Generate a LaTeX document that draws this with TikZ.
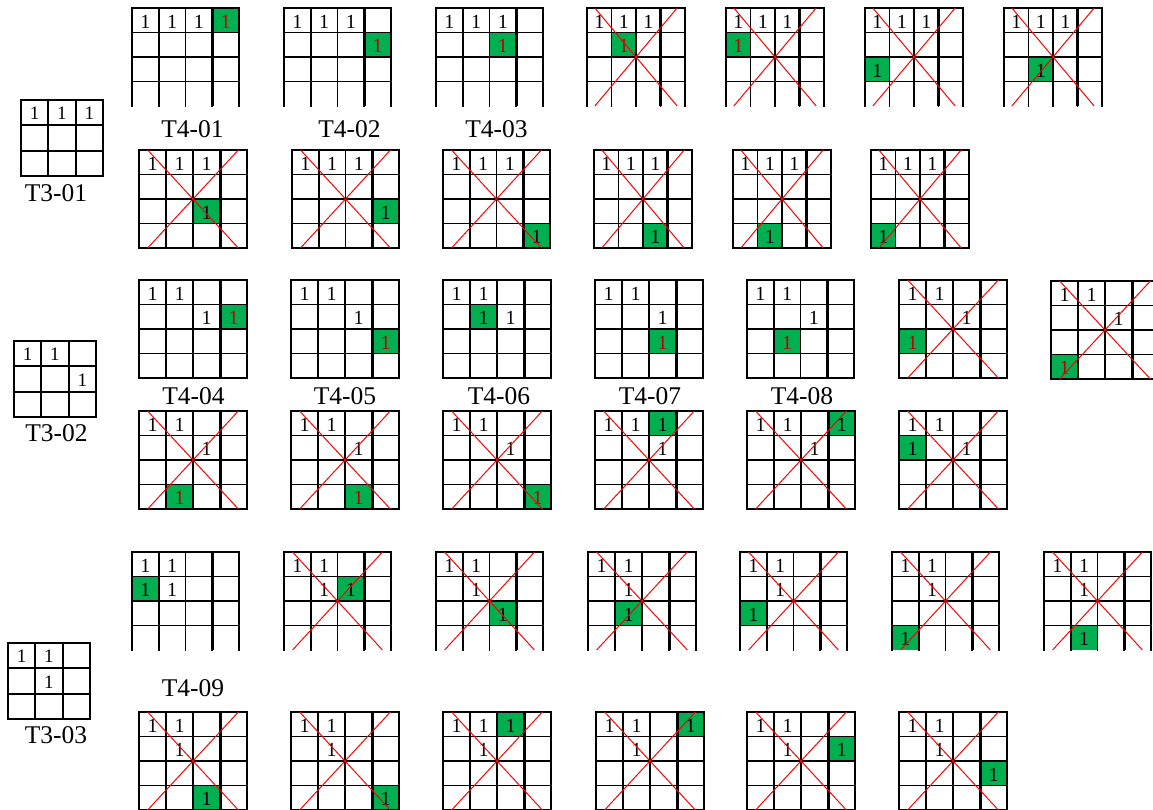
\documentclass[tikz,border=0pt]{standalone}
\usepackage{fontspec}
\setmainfont{Liberation Serif}
\usetikzlibrary{calc}
\definecolor{hitgreen}{RGB}{0,176,80}
\definecolor{hitred}{RGB}{192,0,0}
\tikzset{
  gridline/.style={line width=1.9pt, black, line cap=rect},
  heavyline/.style={line width=3pt, black},
  hitcell/.style={fill=hitgreen},
  num/.style={font=\fontsize{20}{20}\selectfont, inner sep=0pt, yshift=-1.5pt},
  tnum/.style={font=\fontsize{19}{19}\selectfont, inner sep=0pt, yshift=-1pt},
  tag/.style={font=\fontsize{25.5}{25.5}\selectfont, inner sep=0pt},
  strike/.style={red, line width=1pt}
}
% bottom rule of a 4x4 board (3 = open bottom)
\def\lastrule{4}
% 4x4 board: name, top-left corner, width, cells holding 1, green cell row/col/colour
\newcommand{\board}[5]{%
  \pgfmathsetmacro\cellw{#3/4}
  \begin{scope}[shift={(#2)}, x=\cellw pt, y=-24.5pt]
    \coordinate (#1-nw) at (0,0);
    \coordinate (#1-ne) at (4,0);
    \coordinate (#1-sw) at (0,4);
    \coordinate (#1-se) at (4,4);
    \foreach \rr/\cc/\tc in {#5} {
      \fill[hitcell] (\cc-1,\rr-1) rectangle (\cc,\rr);
      \node[num, text=\tc] (#1-hit) at (\cc-0.5,\rr-0.5) {1};
    }
    \foreach \i in {0,...,4} \draw[gridline] (\i,0) -- (\i,4);
    \foreach \i in {0,...,\lastrule} \draw[gridline] (0,\i) -- (4,\i);
    \draw[heavyline] (3,0) -- (3,4);
    \foreach \rr/\cc in {#4} \node[num] (#1-\rr-\cc) at (\cc-0.5,\rr-0.5) {1};
  \end{scope}}
% 3x3 base board: name, top-left corner, cells holding 1
\newcommand{\tboard}[3]{%
  \begin{scope}[shift={(#2)}, x=27.3pt, y=-25.3pt]
    \foreach \i in {0,...,3} {
      \draw[gridline] (\i,0) -- (\i,3);
      \draw[gridline] (0,\i) -- (3,\i);
    }
    \foreach \rr/\cc in {#3} \node[tnum] (#1-\rr-\cc) at (\cc-0.5,\rr-0.5) {1};
  \end{scope}}
% red cross over a board
\newcommand{\strikeout}[1]{%
  \draw[strike] ($(#1-nw)!0.08!(#1-ne)$) -- ($(#1-sw)!0.92!(#1-se)$);
  \draw[strike] ($(#1-nw)!0.92!(#1-ne)$) -- ($(#1-sw)!0.08!(#1-se)$);}

\begin{document}
\begin{tikzpicture}[x=1pt, y=-1pt]
  \useasboundingbox (0,0) rectangle (1153,809);
  \clip (0,0) rectangle (1153,809);

  % T3-01
  \tboard{t301}{21,100}{1/1,1/2,1/3}
  \node[tag] (t3-01) at (56,193) {T3-01};
  \def\lastrule{3}
  \board{g1a}{132,8}{107}{1/1,1/2,1/3}{1/4/hitred}
  \board{g1b}{284,8}{107}{1/1,1/2,1/3}{2/4/hitred}
  \board{g1c}{436,8}{107}{1/1,1/2,1/3}{2/3/hitred}
  \board{g1d}{587,8}{98}{1/1,1/2,1/3}{2/2/hitred}
  \board{g1e}{726,8}{98}{1/1,1/2,1/3}{2/1/hitred}
  \board{g1f}{865,8}{98}{1/1,1/2,1/3}{3/1/black}
  \board{g1g}{1004,8}{98}{1/1,1/2,1/3}{3/2/black}
  \def\lastrule{4}
  \board{g1h}{139,150}{108}{1/1,1/2,1/3}{3/3/black}
  \board{g1i}{292,150}{107}{1/1,1/2,1/3}{3/4/black}
  \board{g1j}{443,150}{107}{1/1,1/2,1/3}{4/4/black}
  \board{g1k}{594,150}{98}{1/1,1/2,1/3}{4/3/black}
  \board{g1l}{733,150}{98}{1/1,1/2,1/3}{4/2/black}
  \board{g1m}{871,150}{98}{1/1,1/2,1/3}{4/1/black}
  \node[tag] (t4-01) at (192.5,129) {T4-01};
  \node[tag] (t4-02) at (349.5,129) {T4-02};
  \node[tag] (t4-03) at (496.5,129) {T4-03};

  % T3-02
  \tboard{t302}{14,341}{1/1,1/2,2/3}
  \node[tag] (t3-02) at (56.5,433) {T3-02};
  \board{g2a}{139,280}{108}{1/1,1/2,2/3}{2/4/hitred}
  \board{g2b}{291,280}{108}{1/1,1/2,2/3}{3/4/hitred}
  \board{g2c}{443,280}{108}{1/1,1/2,2/3}{2/2/black}
  \board{g2d}{595,280}{108}{1/1,1/2,2/3}{3/3/hitred}
  \board{g2e}{747,280}{107}{1/1,1/2,2/3}{3/2/hitred}
  \board{g2f}{899,280}{108}{1/1,1/2,2/3}{3/1/hitred}
  \board{g2g}{1051,281}{108}{1/1,1/2,2/3}{4/1/hitred}
  \board{g2h}{139,411}{108}{1/1,1/2,2/3}{4/2/hitred}
  \board{g2i}{291,411}{108}{1/1,1/2,2/3}{4/3/hitred}
  \board{g2j}{443,411}{108}{1/1,1/2,2/3}{4/4/hitred}
  \board{g2k}{595,411}{108}{1/1,1/2,2/3}{1/3/black}
  \board{g2l}{747,411}{108}{1/1,1/2,2/3}{1/4/black}
  \board{g2m}{899,411}{108}{1/1,1/2,2/3}{2/1/black}
  \node[tag] (t4-04) at (193.5,396) {T4-04};
  \node[tag] (t4-05) at (345,396) {T4-05};
  \node[tag] (t4-06) at (499,396) {T4-06};
  \node[tag] (t4-07) at (650,396) {T4-07};
  \node[tag] (t4-08) at (802,396) {T4-08};

  % T3-03
  \tboard{t303}{8,643}{1/1,1/2,2/2}
  \node[tag] (t3-03) at (56,735) {T3-03};
  \def\lastrule{3}
  \board{g3a}{132,552}{107}{1/1,1/2,2/2}{2/1/black}
  \board{g3b}{284,552}{107}{1/1,1/2,2/2}{2/3/black}
  \board{g3c}{436,552}{107}{1/1,1/2,2/2}{3/3/black}
  \board{g3d}{588,552}{108}{1/1,1/2,2/2}{3/2/black}
  \board{g3e}{740,552}{107}{1/1,1/2,2/2}{3/1/black}
  \board{g3f}{892,552}{107}{1/1,1/2,2/2}{4/1/black}
  \board{g3g}{1044,552}{107}{1/1,1/2,2/2}{4/2/black}
  \def\lastrule{4}
  \board{g3h}{139,712}{108}{1/1,1/2,2/2}{4/3/black}
  \board{g3i}{291,712}{108}{1/1,1/2,2/2}{4/4/black}
  \board{g3j}{443,712}{108}{1/1,1/2,2/2}{1/3/black}
  \board{g3k}{596,712}{108}{1/1,1/2,2/2}{1/4/black}
  \board{g3l}{747,712}{108}{1/1,1/2,2/2}{2/4/black}
  \board{g3m}{899,712}{108}{1/1,1/2,2/2}{3/4/black}
  \node[tag] (t4-09) at (193,688.5) {T4-09};

  % rejected boards
  \foreach \g in {g1d,g1e,g1f,g1g,g1h,g1i,g1j,g1k,g1l,g1m,
                  g2f,g2g,g2h,g2i,g2j,g2k,g2l,g2m,
                  g3b,g3c,g3d,g3e,g3f,g3g,g3h,g3i,g3j,g3k,g3l,g3m}
    {\strikeout{\g}}
\end{tikzpicture}
\end{document}
